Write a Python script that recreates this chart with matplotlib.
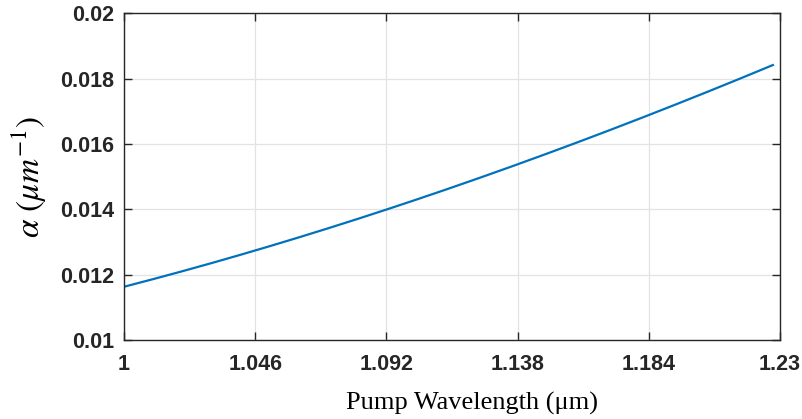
import matplotlib
matplotlib.use("Agg")
import matplotlib.pyplot as plt
import numpy as np

# pump wavelength (um) and loss coefficient alpha (1/um)
wavelength = [1.000, 1.023, 1.046, 1.069, 1.092, 1.115, 1.138, 1.161, 1.184, 1.207, 1.2275]
alpha = [0.01163, 0.01217, 0.01274, 0.01335, 0.01400, 0.01467, 0.01538, 0.01612, 0.01689, 0.01769, 0.01842]

x_ticks = [1, 1.046, 1.092, 1.138, 1.184, 1.23]
x_tick_labels = ["1", "1.046", "1.092", "1.138", "1.184", "1.23"]
y_ticks = [0.01, 0.012, 0.014, 0.016, 0.018, 0.02]
y_tick_labels = ["0.01", "0.012", "0.014", "0.016", "0.018", "0.02"]

LINE_COLOR = "#0072BD"
TEXT_COLOR = "#262626"

plt.rcParams["mathtext.fontset"] = "stix"

fig = plt.figure(figsize=(8.03, 4.19), dpi=100)
ax = fig.add_axes([0.1544, 0.1885, 0.8170, 0.7793])

# smooth curve through the sampled points
xs = np.linspace(wavelength[0], wavelength[-1], 200)
coef = np.polyfit(wavelength, alpha, 3)
ax.plot(xs, np.polyval(coef, xs), color=LINE_COLOR, linewidth=1.6)

ax.set_xlim(1, 1.23)
ax.set_ylim(0.01, 0.02)
ax.set_xticks(x_ticks)
ax.set_xticklabels(x_tick_labels)
ax.set_yticks(y_ticks)
ax.set_yticklabels(y_tick_labels)

ax.grid(True, color="#e3e3e3", linewidth=0.9)
ax.set_axisbelow(True)
for spine in ax.spines.values():
    spine.set_color(TEXT_COLOR)
    spine.set_linewidth(1.0)

ax.tick_params(direction="in", length=6, width=1.0, top=True, right=True,
               colors=TEXT_COLOR, labelsize=15.5)
ax.tick_params(axis="x", pad=10)
ax.tick_params(axis="y", pad=7)
for lbl in ax.get_xticklabels() + ax.get_yticklabels():
    lbl.set_fontfamily("Liberation Sans")
    lbl.set_fontweight("bold")
    lbl.set_color(TEXT_COLOR)

ax.set_xlabel("Pump Wavelength (\u03bcm)", fontfamily="Liberation Serif",
              fontsize=19, color="black", labelpad=12)
ax.xaxis.label.set_x(0.53)
ax.set_ylabel(r"$\alpha\ (\mu m^{-1})$", fontsize=24, color="black", labelpad=8)

fig.savefig("out.png", dpi=100)
